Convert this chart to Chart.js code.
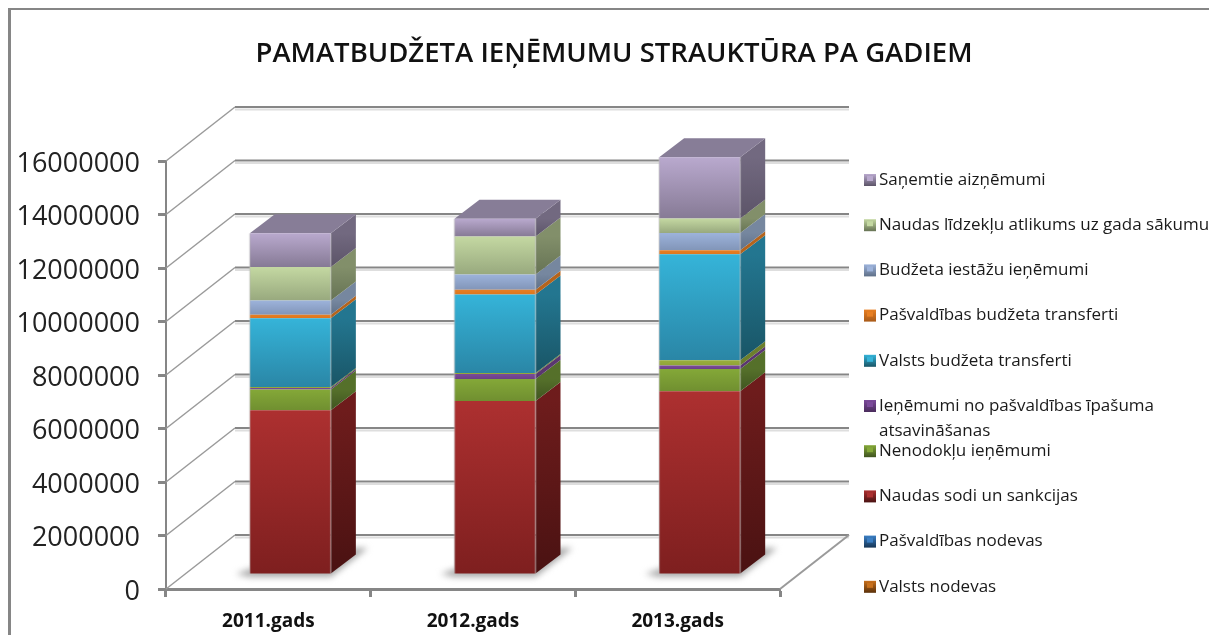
<!DOCTYPE html>
<html lang="lv">
<head>
<meta charset="utf-8">
<title>Pamatbudžeta ieņēmumu struktūra pa gadiem</title>
<script src="https://cdn.jsdelivr.net/npm/chart.js@4"></script>
<style>
  html, body { margin: 0; padding: 0; background: #fff; overflow: hidden; height: 100%; }
  #frame { position: absolute; left: 8px; top: 8px; width: 1300px; height: 700px;
           border-left: 3px solid #868686; border-top: 2px solid #868686; }
  canvas { display: block; }
</style>
</head>
<body>
<div id="frame"><canvas id="budgetChart" width="1206" height="640"></canvas></div>
<script>
const titleText = 'PAMATBUDŽETA IEŅĒMUMU STRAUKTŪRA PA GADIEM';
const categories = ['2011.gads', '2012.gads', '2013.gads'];

// ================== Dati (no apakšas uz augšu) ==================
const valstsNodevas = [0, 0, 0];
const pasvaldibasNodevas = [0, 0, 0];
const naudasSodi = [6120000, 6470000, 6830000];
const nenodoklu = [775000, 820000, 835000];
const ipasumaAtsavinasana = [55000, 190000, 125000];
const neatpazits = [45000, 30000, 200000]; // plāna josla, leģendā tās nav
const valstsTransferti = [2570000, 2940000, 3960000];
const pasvaldibasTransferti = [127000, 175000, 150000];
const iestazuIenemumi = [535000, 575000, 650000];
const naudasAtlikums = [1250000, 1420000, 540000];
const sanemtieAiznemumi = [1260000, 660000, 2285000];

// krāsas: priekša augša, priekša apakša, sāns augša, sāns apakša
const series = [
  { label: 'Valsts nodevas', data: valstsNodevas, c: ['#C8701C', '#8F4E12', '#7A430F', '#5A300A'] },
  { label: 'Pašvaldības nodevas', data: pasvaldibasNodevas, c: ['#3B7FC4', '#27588C', '#1F4A78', '#163555'] },
  { label: 'Naudas sodi un sankcijas', data: naudasSodi, c: ['#AD3030', '#7E1F1F', '#6E1C1C', '#4A1212'] },
  { label: 'Nenodokļu ieņēmumi', data: nenodoklu, c: ['#84A838', '#708F30', '#55702A', '#3F5420'] },
  { label: 'Ieņēmumi no pašvaldības īpašuma atsavināšanas', lines: ['Ieņēmumi no pašvaldības īpašuma', 'atsavināšanas'], data: ipasumaAtsavinasana, c: ['#7B4A9A', '#6B3F88', '#5A3670', '#4A2C5C'] },
  { label: '', data: neatpazits, c: ['#9AAE3C', '#8FA438', '#6C7F2C', '#5E7026'] },
  { label: 'Valsts budžeta transferti', data: valstsTransferti, c: ['#35B4D9', '#2A86A6', '#237690', '#195566'] },
  { label: 'Pašvaldības budžeta transferti', data: pasvaldibasTransferti, c: ['#E87F22', '#DD761E', '#B5641C', '#A85A18'] },
  { label: 'Budžeta iestāžu ieņēmumi', data: iestazuIenemumi, c: ['#9DB3DB', '#8195B8', '#76879F', '#5F7088'] },
  { label: 'Naudas līdzekļu atlikums uz gada sākumu', data: naudasAtlikums, c: ['#C4D8A2', '#98A97E', '#828F6A', '#667354'] },
  { label: 'Saņemtie aizņēmumi', data: sanemtieAiznemumi, c: ['#B9A9CE', '#867A95', '#726980', '#5C5468'] }
];

// perspektīvas nobīdes
const wallDx = 69, wallDy = 54;
const barDx = 22, barDy = 15;
const sideDx = 25, sideDy = 19;
const axisGrey = '#868686';

function vGrad(g, yTop, yBottom, c1, c2) {
  const grad = g.createLinearGradient(0, yTop, 0, yBottom);
  grad.addColorStop(0, c1);
  grad.addColorStop(1, c2);
  return grad;
}

function face(g, pts, fill) {
  g.beginPath();
  pts.forEach((p, i) => (i ? g.lineTo(p[0], p[1]) : g.moveTo(p[0], p[1])));
  g.closePath();
  g.fillStyle = fill;
  g.fill();
}

// virsraksts centrēts pa visu audeklu, ne pa zīmējuma laukumu
const titlePlugin = {
  id: 'wideTitle',
  afterLayout(chart) {
    chart.titleBlock.left = 0;
    chart.titleBlock.right = chart.width;
  }
};

// ================== Sienas un grīda ==================
const wallPlugin = {
  id: 'wall',
  beforeDatasetsDraw(chart) {
    const g = chart.ctx, y = chart.scales.y, a = chart.chartArea;
    g.save();
    y.ticks.forEach(t => {
      const py = y.getPixelForValue(t.value);
      g.strokeStyle = '#dedede';
      g.lineWidth = 2;
      g.beginPath();
      g.moveTo(a.left + wallDx, py - wallDy + 2.5);
      g.lineTo(a.right + wallDx, py - wallDy + 2.5);
      g.stroke();
      g.strokeStyle = axisGrey;
      g.lineWidth = 2;
      g.beginPath();
      g.moveTo(a.left + wallDx, py - wallDy);
      g.lineTo(a.right + wallDx, py - wallDy);
      g.stroke();
      g.strokeStyle = '#9a9a9a';
      g.lineWidth = 1.5;
      g.beginPath();
      g.moveTo(a.left, py);
      g.lineTo(a.left + wallDx, py - wallDy);
      g.stroke();
    });
    g.strokeStyle = '#9a9a9a';
    g.lineWidth = 2;
    g.beginPath();
    g.moveTo(a.right, a.bottom);
    g.lineTo(a.right + wallDx, a.bottom - wallDy);
    g.stroke();
    g.restore();
  }
};

// ================== Stabiņu sāni un ēnas ==================
const barPlugin = {
  id: 'bar3d',
  beforeDatasetsDraw(chart) {
    const g = chart.ctx;
    g.save();
    g.translate(barDx, -barDy);
    chart.getDatasetMeta(0).data.forEach(el => {
      const l = el.x - el.width / 2, r = el.x + el.width / 2, b = chart.scales.y.getPixelForValue(0);
      g.save();
      g.filter = 'blur(3px)';
      face(g, [[l - 14, b], [l, b - 5], [r + sideDx, b - sideDy - 7], [r + sideDx + 12, b - sideDy - 7], [r, b + 3], [l, b + 3]], '#a8a8a8');
      g.restore();
    });
    series.forEach((s, d) => {
      chart.getDatasetMeta(d).data.forEach(el => {
        if (el.base - el.y < 0.01) return;
        const r = el.x + el.width / 2;
        face(g, [[r, el.y], [r + sideDx, el.y - sideDy], [r + sideDx, el.base - sideDy], [r, el.base]],
          vGrad(g, el.y, el.base, s.c[2], s.c[3]));
      });
    });
    // jumts
    const last = series.length - 1;
    chart.getDatasetMeta(last).data.forEach(el => {
      const l = el.x - el.width / 2, r = el.x + el.width / 2;
      face(g, [[l, el.y], [l + sideDx, el.y - sideDy], [r + sideDx, el.y - sideDy], [r, el.y]], '#877D97');
    });
  },
  afterDatasetsDraw(chart) {
    const g = chart.ctx, last = series.length - 1, b = chart.scales.y.getPixelForValue(0);
    // gaišas malas stabiņa priekšpusei
    chart.getDatasetMeta(last).data.forEach(el => {
      const l = el.x - el.width / 2, r = el.x + el.width / 2;
      g.fillStyle = 'rgba(190,190,190,0.35)';
      g.fillRect(l - 1, el.y, 2, b - el.y);
      g.fillRect(r - 1, el.y, 2, b - el.y);
    });
    g.restore();
  }
};

// ================== Leģenda ==================
const legendPlugin = {
  id: 'sideLegend',
  afterDraw(chart) {
    const g = chart.ctx;
    const boxX = 853, textX = 868, firstY = 170, step = 45.2;
    g.save();
    g.textBaseline = 'middle';
    g.textAlign = 'left';
    g.font = '17px "Open Sans"';
    series.filter(s => s.label).slice().reverse().forEach((s, i) => {
      const cy = firstY + i * step;
      g.fillStyle = vGrad(g, cy - 6, cy + 6, s.c[0], s.c[3]);
      g.fillRect(boxX, cy - 6, 12, 12);
      g.fillStyle = s.c[0];
      g.fillRect(boxX + 3, cy - 4, 6, 5);
      g.fillStyle = '#1a1a1a';
      const lines = s.lines || [s.label];
      lines.forEach((t, n) => g.fillText(t, textX, cy + n * 25));
    });
    g.restore();
  }
};

// stabiņa joslas robežas no datiem, gradientam
function bandFill(ctx, d) {
  const chart = ctx.chart, y = chart.scales.y, i = ctx.dataIndex;
  if (i === undefined || !y) return series[d].c[0];
  let sum = 0;
  for (let k = 0; k < d; k++) sum += series[k].data[i];
  const top = y.getPixelForValue(sum + series[d].data[i]), bottom = y.getPixelForValue(sum);
  if (!isFinite(top) || !isFinite(bottom)) return series[d].c[0];
  return vGrad(chart.ctx, top, bottom, series[d].c[0], series[d].c[1]);
}

new Chart(document.getElementById('budgetChart'), {
  type: 'bar',
  data: {
    labels: categories,
    datasets: series.map((s, d) => ({
      label: s.label,
      data: s.data,
      backgroundColor: ctx => bandFill(ctx, d),
      borderWidth: 0,
      clip: false,
      categoryPercentage: 1,
      barPercentage: 0.396
    }))
  },
  plugins: [titlePlugin, wallPlugin, barPlugin, legendPlugin],
  options: {
    responsive: false,
    animation: false,
    layout: { padding: { left: 0, right: 437, top: 0, bottom: 0 } },
    plugins: {
      legend: { display: false },
      tooltip: { enabled: false },
      title: {
        display: true,
        text: titleText,
        color: '#111',
        font: { family: '"Open Sans"', size: 27.5, weight: '600', lineHeight: 1.2 },
        padding: { top: 28, bottom: 90 }
      }
    },
    scales: {
      x: {
        stacked: true,
        afterFit(scale) { scale.height = 61; },
        grid: { drawOnChartArea: false, tickLength: 8, tickWidth: 3, tickColor: axisGrey, offset: true },
        border: { color: axisGrey, width: 3 },
        ticks: { color: '#111', padding: 13, maxRotation: 0, font: { family: '"Open Sans"', size: 19, weight: 'bold' } }
      },
      y: {
        stacked: true,
        min: 0,
        max: 16000000,
        afterFit(scale) { scale.width = 155; },
        grid: { drawOnChartArea: false, tickLength: 8, tickWidth: 3, tickColor: axisGrey },
        border: { color: axisGrey, width: 2 },
        ticks: { stepSize: 2000000, color: '#222', padding: 18, labelOffset: 3, callback: v => String(v), font: { family: '"Open Sans"', size: 27 } }
      }
    }
  }
});
</script>
</body>
</html>
